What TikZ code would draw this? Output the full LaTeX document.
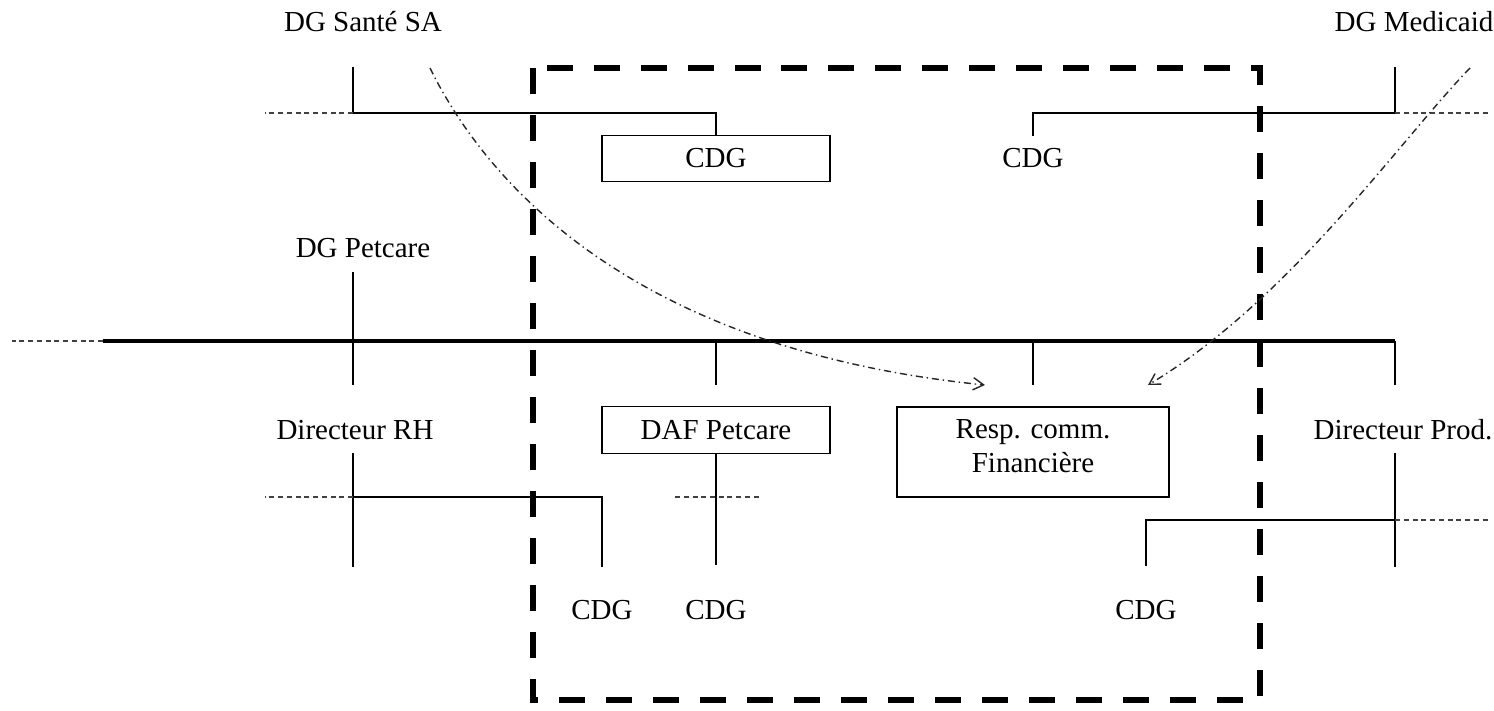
\documentclass[tikz,border=0pt]{standalone}
\usepackage{fontspec}
\setmainfont{Liberation Serif}
\usetikzlibrary{arrows.meta}
\tikzset{
  lbl/.style={font=\fontsize{16.5}{19.5}\selectfont},
  box/.style={lbl,draw,line width=0.8pt,minimum width=4.56cm,minimum height=0.93cm,inner sep=0pt},
  link/.style={line width=0.8pt},
  spur/.style={line width=0.8pt,black!75,dash pattern=on 0.1cm off 0.075cm},
  mainline/.style={line width=1.8pt},
  perimeter/.style={line width=3.2pt,dash pattern=on 0.52cm off 0.42cm},
  influence/.style={line width=0.8pt,black!85,dash pattern=on 4pt off 2.2pt on 0.8pt off 2.2pt,-{Straight Barb[length=6pt,width=7pt]}}
}
\begin{document}
\begin{tikzpicture}[x=0.02cm,y=-0.02cm]
    \useasboundingbox (0,0) rectangle (1494,710);
    % Labels
    \node[lbl] (sante) at (363,22) {DG Santé SA};
    \node[lbl] (medicaid) at (1414,22) {DG Medicaid};
    \node[lbl] (petcare) at (363,248) {DG Petcare};
    \node[lbl] (rh) at (355,430) {Directeur RH};
    \node[lbl] (prod) at (1403,430) {Directeur Prod.};
    \node[box] (cdgSante) at (716,158.5) {CDG};
    \node[lbl,inner ysep=6.5pt] (cdgMed) at (1033,158) {CDG};
    \node[box] (daf) at (716,430) {DAF Petcare};
    \node[box,minimum width=5.44cm,minimum height=1.8cm] (resp) at (1033,452) {};
    \node[lbl,align=center] (respTxt) at (1033,446) {Resp. comm.\\Financière};
    \node[lbl] (cdgRh) at (602,610) {CDG};
    \node[lbl] (cdgDaf) at (716,610) {CDG};
    \node[lbl] (cdgProd) at (1146,610) {CDG};

    % Junctions
    \coordinate (santeTop) at (353,67);
    \coordinate (santeJ) at (353,113);
    \coordinate (medTop) at (1395,67);
    \coordinate (medJ) at (1395,113);
    \coordinate (mainL) at (103,341);
    \coordinate (mainR) at (1395,341);
    \coordinate (rhJ) at (353,497);
    \coordinate (prodJ) at (1395,520);

    % Perimeter
    \draw[perimeter] (533,68) rectangle (1260,700);

    % DG Santé SA
    \draw[link] (santeTop) -- (santeJ) -| (cdgSante.north);
    \draw[spur] (santeJ) -- ++(-88,0);
    % DG Medicaid
    \draw[link] (medTop) -- (medJ) -| (cdgMed.north);
    \draw[spur] (medJ) -- ++(93,0);

    % Petcare line
    \draw[mainline] (mainL) -- (mainR);
    \draw[spur] (mainL) -- ++(-91,0);
    \draw[link] (353,272) -- (353,385);
    \draw[link] (716,341) -- (716,385);
    \draw[link] (1033,341) -- (1033,385);
    \draw[link] (mainR) -- (1395,385);

    % Directeur RH
    \draw[link] (353,453) -- (353,567);
    \draw[link] (rhJ) -| (602,567);
    \draw[spur] (rhJ) -- ++(-88,0);
    % DAF Petcare
    \draw[link] (daf.south) -- (716,565);
    \draw[spur] (675,497) -- (762,497);
    % Directeur Prod.
    \draw[link] (1395,453) -- (1395,567);
    \draw[link] (prodJ) -| (1146,566);
    \draw[spur] (prodJ) -- ++(93,0);

    % Influence arrows
    \draw[influence] (430,68) .. controls (490,190) and (640,350) .. (985,385);
    \draw[influence] (1470,68) .. controls (1400,140) and (1290,300) .. (1148,385);
\end{tikzpicture}
\end{document}
